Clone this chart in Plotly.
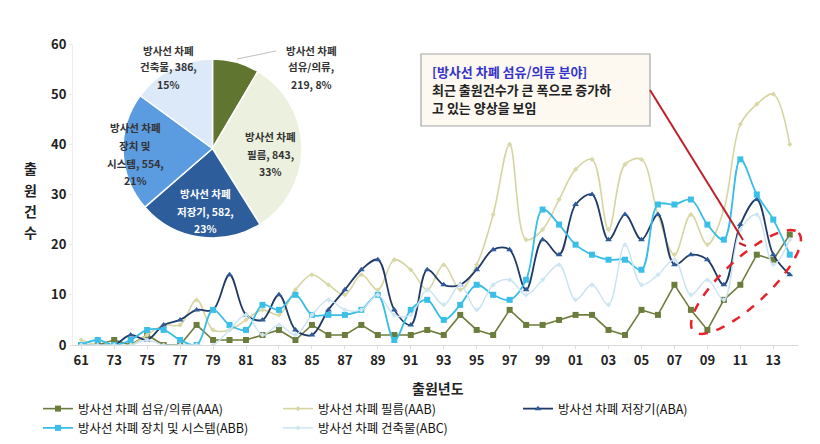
import math
import plotly.graph_objects as go

# ---------------- data ----------------
years = ["61", "72", "73", "74", "75", "76", "77", "78", "79", "80", "81", "82", "83", "84",
         "85", "86", "87", "88", "89", "90", "91", "92", "93", "94", "95", "96", "97", "98",
         "99", "00", "01", "02", "03", "04", "05", "06", "07", "08", "09", "10", "11", "12",
         "13", "14"]
tick_labels = years[::2]

aaa = [0, 0, 1, 0, 2, 0, 0, 4, 1, 1, 1, 2, 3, 1, 4, 2, 2, 4, 2, 2, 2, 3, 2, 6, 3, 2, 7, 4,
       4, 5, 6, 6, 3, 2, 7, 6, 12, 7, 3, 9, 12, 18, 17, 22]
aab = [1, 0, 0, 0, 2, 4, 4, 9, 3, 3, 5, 7, 6, 11, 14, 12, 10, 14, 11, 17, 15, 11, 16, 11,
       16, 26, 40, 21, 23, 29, 35, 37, 23, 36, 37, 26, 18, 26, 20, 27, 44, 48, 50, 40]
aba = [None, 0, 0, 2, 1, 4, 5, 7, 7, 14, 6, 5, 10, 3, 2, 7, 11, 15, 17, 7, 4, 15, 12, 12,
       15, 19, 19, 11, 21, 18, 28, 30, 21, 26, 21, 26, 16, 18, 17, 12, 24, 29, 18, 14]
abb = [0, 1, 0, 1, 3, 3, 1, 0, 7, 4, 3, 8, 7, 10, 6, 6, 6, 7, 10, 1, 7, 9, 5, 8, 12, 10,
       9, 13, 27, 24, 20, 18, 17, 17, 15, 28, 28, 29, 24, 21, 37, 30, 25, 18]
abc = [0, 0, 0, 0, 1, 0, 0, 0, 0, 3, 6, 2, 4, 2, 6, 9, 7, 7, 10, 6, 6, 11, 8, 12, 7, 12,
       13, 10, 13, 16, 9, 12, 8, 20, 12, 14, 17, 10, 13, 9, 23, 26, 16, 21]

series_names = ["방사선 차폐 섬유/의류(AAA)", "방사선 차폐 필름(AAB)", "방사선 차폐 저장기(ABA)",
                "방사선 차폐 장치 및 시스템(ABB)", "방사선 차폐 건축물(ABC)"]

pie_names = ["섬유/의류", "필름", "저장기", "장치 및 시스템", "건축물"]
pie_values = [219, 843, 582, 554, 386]

note_title = "[방사선 차폐 섬유/의류 분야]"
note_lines = ["최근 출원건수가 큰 폭으로 증가하", "고 있는 양상을 보임"]

# ---------------- styles ----------------
W, H = 820, 444
ML, MR, MT, MB = 65, 30, 36, 107
PW, PH = W - ML - MR, H - MT - MB


def px(x):
    return (x - ML) / PW


def py(y):
    return (H - MB - y) / PH


FONT = "Noto Sans CJK KR"
line_colors = ["#6E7C3E", "#D6D5A2", "#1F3A66", "#38BDE6", "#C9E3F0"]
marker_colors = ["#6B7D3C", "#D9D8A8", "#2F5A9A", "#3BBFE8", "#CDE6F2"]
marker_symbols = ["square", "diamond", "triangle-up", "square", "diamond"]
marker_sizes = [6, 4, 6, 6, 4]
shapes_line = ["linear", "spline", "spline", "spline", "spline"]
widths = [1.6, 1.6, 1.8, 1.8, 1.4]
pie_colors = ["#5F7530", "#EBF1DE", "#2D5D9B", "#5B9BDF", "#DCE9F8"]

fig = go.Figure()

all_series = [aaa, aab, aba, abb, abc]
for i, ys in enumerate(all_series):
    fig.add_trace(go.Scatter(
        x=years, y=ys, name=series_names[i], mode="lines+markers",
        line=dict(color=line_colors[i], width=widths[i], shape=shapes_line[i], smoothing=1.0),
        marker=dict(symbol=marker_symbols[i], size=marker_sizes[i], color=marker_colors[i]),
        connectgaps=False,
    ))

fig.add_trace(go.Pie(
    labels=pie_names, values=pie_values, sort=False, direction="clockwise", rotation=0,
    marker=dict(colors=pie_colors, line=dict(color="white", width=1.5)),
    textinfo="none", hoverinfo="label+value+percent", showlegend=False,
    domain=dict(x=[px(115), px(294)], y=[py(231), py(50)]),
))

total = sum(pie_values)
pcts = [round(v / total * 100) for v in pie_values]

annotations = []


def add_text(x, y, text, size=11.5, color="#333333", anchor="center", bold=True):
    annotations.append(dict(
        x=px(x), y=py(y), xref="paper", yref="paper", text=("<b>%s</b>" % text) if bold else text,
        showarrow=False, xanchor=anchor, yanchor="middle", borderpad=0,
        font=dict(family=FONT, size=size, color=color)))


# pie labels (line by line)
label_lines = [
    ["방사선 차폐", "%s," % pie_names[0], "%d, %d%%" % (pie_values[0], pcts[0])],
    ["방사선 차폐", "%s, %d," % (pie_names[1], pie_values[1]), "%d%%" % pcts[1]],
    ["방사선 차폐", "%s, %d," % (pie_names[2], pie_values[2]), "%d%%" % pcts[2]],
    ["방사선 차폐", "장치 및", "시스템, %d," % pie_values[3], "%d%%" % pcts[3]],
    ["방사선 차폐", "%s, %d," % (pie_names[4], pie_values[4]), "%d%%" % pcts[4]],
]
label_pos = [(303, [42, 59, 76]), (262, [128, 146, 163]), (197, [185, 203, 220]),
             (127, [119, 137, 155, 172]), (160, [42, 59, 76])]
label_colors = ["#333333", "#333333", "#FFFFFF", "#333333", "#333333"]
for i in range(5):
    cx, ys_ = label_pos[i]
    for t, yy in zip(label_lines[i], ys_):
        add_text(cx, yy, t, size=10.5, color=label_colors[i])

# y title (vertical stacked)
for ch, yy in zip("출원건수", [160, 182, 203, 224]):
    add_text(22, yy, ch, size=14, color="#222222")

# x title
add_text(430, 380, "출원년도", size=14, color="#222222")

# note box text
add_text(423, 63, note_title, size=13, color="#3333CC", anchor="left")
add_text(423, 81, note_lines[0], size=13, color="#222222", anchor="left")
add_text(423, 99, note_lines[1], size=13, color="#222222", anchor="left")

shapes = []
# note box
shapes.append(dict(type="rect", xref="paper", yref="paper", x0=px(413), x1=px(642), y0=py(118), y1=py(46),
                   fillcolor="#FDF9F1", line=dict(color="#A6A6A6", width=1.2), layer="below"))
# pointer line
shapes.append(dict(type="line", xref="paper", yref="paper", x0=px(642), y0=py(82), x1=px(735), y1=py(232),
                   line=dict(color="#C0202A", width=2)))
shapes.append(dict(type="line", xref="paper", yref="paper", x0=px(731), y0=py(235), x1=px(738), y1=py(238),
                   line=dict(color="#C0202A", width=2)))
# pie leader line for first label
shapes.append(dict(type="line", xref="paper", yref="paper", x0=px(229), y0=py(51), x1=px(268), y1=py(43),
                   line=dict(color="#BFBFBF", width=1)))
# dashed ellipse (rotated)
cx, cy, a, b, ang = 738, 274, 72, 23, math.radians(43)
pts = []
for k in range(73):
    t = 2 * math.pi * k / 72
    ex = a * math.cos(t)
    ey = b * math.sin(t)
    X = cx + ex * math.cos(ang) + ey * math.sin(ang)
    Y = cy - ex * math.sin(ang) + ey * math.cos(ang)
    pts.append((px(X), py(Y)))
path = "M " + " L ".join("%.5f,%.5f" % p for p in pts) + " Z"
shapes.append(dict(type="path", xref="paper", yref="paper", path=path,
                   line=dict(color="#E8222B", width=2.5, dash="dash")))

fig.update_layout(
    width=W, height=H,
    margin=dict(l=ML, r=MR, t=MT, b=MB, autoexpand=False),
    paper_bgcolor="white", plot_bgcolor="white",
    font=dict(family=FONT, size=13, color="#222222"),
    xaxis=dict(type="category", categoryorder="array", categoryarray=years,
               tickvals=tick_labels, ticktext=["<b>%s</b>" % t for t in tick_labels],
               showgrid=False, showline=True, linecolor="#D9D9D9", linewidth=1,
               ticks="outside", ticklen=3, tickcolor="#E0E0E0", zeroline=False,
               tickfont=dict(size=13, color="#222222"), range=[-0.5, 43.5]),
    yaxis=dict(range=[0, 60], tickvals=[0, 10, 20, 30, 40, 50, 60],
               ticktext=["<b>%d</b>" % v for v in [0, 10, 20, 30, 40, 50, 60]],
               showgrid=False, showline=True, linecolor="#EEEEEE", zeroline=False,
               ticks="outside", ticklen=3, tickcolor="#E8E8E8",
               tickfont=dict(size=13, color="#222222")),
    legend=dict(orientation="h", x=px(30), y=py(386), xanchor="left", yanchor="top",
                xref="paper", yref="paper", entrywidth=195, entrywidthmode="pixels",
                font=dict(size=12.5, color="#111111"), itemwidth=30, tracegroupgap=0,
                bgcolor="rgba(0,0,0,0)"),
    annotations=annotations,
    shapes=shapes,
    showlegend=True,
)

fig.write_html("out.html")
